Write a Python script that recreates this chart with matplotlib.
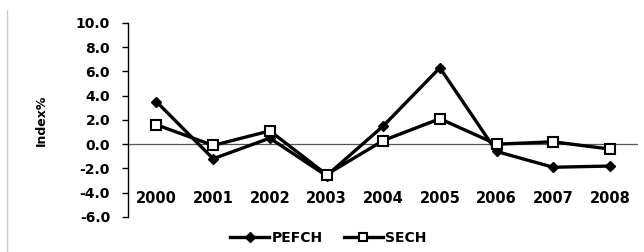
import matplotlib.pyplot as plt
import matplotlib.lines as mlines

years = ['2000', '2001', '2002', '2003', '2004', '2005', '2006', '2007', '2008']
pefch = [3.5, -1.2, 0.5, -2.6, 1.5, 6.3, -0.6, -1.9, -1.8]
sech = [1.6, -0.1, 1.1, -2.5, 0.3, 2.1, 0.0, 0.2, -0.4]
yticks = [10.0, 8.0, 6.0, 4.0, 2.0, 0.0, -2.0, -4.0, -6.0]

plt.rcParams['font.family'] = ['DejaVu Sans']
plt.rcParams['font.weight'] = 'bold'

fig = plt.figure(figsize=(6.44, 2.52), dpi=100)
ax = fig.add_axes([0.199, 0.139, 0.792, 0.770])

x = list(range(len(years)))
ax.plot(x, pefch, color='black', lw=2.4, marker='D', ms=5.5,
        mfc='black', mec='black', label='PEFCH', zorder=3)
ax.plot(x, sech, color='black', lw=2.4, marker='s', ms=6.5,
        mfc='white', mec='black', mew=1.5, label='SECH', zorder=3)

ax.axhline(0, color='#555555', lw=0.9, zorder=1)
ax.set_xlim(-0.5, 8.5)
ax.set_ylim(-6, 10)
ax.set_yticks(yticks)
ax.set_yticklabels(['%.1f' % v for v in yticks], fontsize=10, fontweight='bold')
ax.set_xticks([])
for s in ['top', 'right', 'bottom']:
    ax.spines[s].set_visible(False)
ax.spines['left'].set_linewidth(1.0)
ax.tick_params(axis='y', direction='out', length=4, width=1.0, pad=9)

# year labels sit inside the plot, just above the bottom
for i, yr in enumerate(years):
    ax.text(i, -4.5, yr, ha='center', va='center', fontsize=10.5, fontweight='bold')

ax.set_ylabel('Index%', fontsize=9, fontweight='bold', labelpad=20)

h1 = mlines.Line2D([], [], color='black', lw=2.4, marker='D', ms=5, mfc='black')
h2 = mlines.Line2D([], [], color='black', lw=2.4, marker='s', ms=6, mfc='white', mew=1.5)
fig.legend([h1, h2], ['PEFCH', 'SECH'], loc='center', bbox_to_anchor=(0.51, 0.055),
           ncol=2, frameon=False, prop={'size': 10, 'weight': 'bold'},
           handlelength=2.8, handletextpad=0.2, columnspacing=1.5)

# faint border line on the left edge
fig.add_artist(mlines.Line2D([0.011, 0.011], [0.0, 0.96], color='#cccccc', lw=1.0,
                             transform=fig.transFigure))

fig.savefig('out.png', dpi=100)
